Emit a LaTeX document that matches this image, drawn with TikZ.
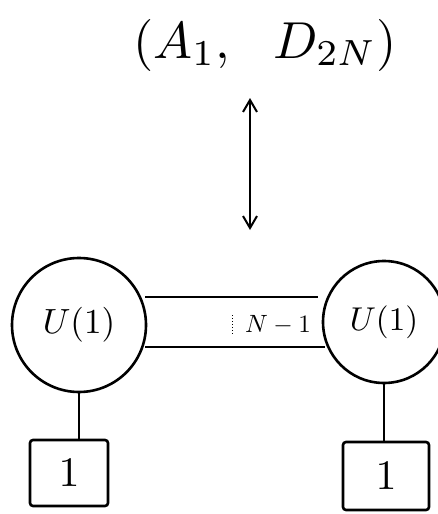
\documentclass[tikz,border=0pt]{standalone}
\usetikzlibrary{arrows.meta}
\begin{document}
\begin{tikzpicture}[x=1pt,y=-1pt,
  ink/.style={line width=2.6pt,black},
  gauge/.style={ink,draw,circle},
  flav/.style={ink,draw,rectangle,rounded corners=3pt}]
\useasboundingbox (0,0) rectangle (437,514);
\node (theory) at (265,45) {\scalebox{5.2}{$(A_1,\ \ D_{2N})$}};
\coordinate (ta) at (250,98);
\coordinate (tb) at (250,230);
\draw[ink,line width=2pt,{Straight Barb[length=12pt,width=14pt]}-{Straight Barb[length=12pt,width=14pt]}] (ta) -- (tb);
\node[gauge,minimum size=134pt] (g1) at (79,325) {};
\node at (g1) {\scalebox{3.5}{$U(1)$}};
\node[gauge,minimum size=122pt] (g2) at (384,322) {};
\node at (g2) {\scalebox{3.3}{$U(1)$}};
\draw[ink] (g1.east |- 0,297) ++(-2,0) coordinate (a1) -- (318,297) coordinate (a2);
\draw[ink] (g1.east |- 0,347) ++(-2,0) coordinate (b1) -- (325,347) coordinate (b2);
\draw[line width=1pt,dotted] (232,315) -- (232,335);
\node (lab) at (278,325) {\scalebox{2.5}{$N-1$}};
\node[flav,minimum width=78pt,minimum height=66pt] (f1) at (69,473) {};
\node at (f1) {\scalebox{4.2}{$1$}};
\node[flav,minimum width=86pt,minimum height=68pt] (f2) at (386,476) {};
\node at (f2) {\scalebox{4.2}{$1$}};
\draw[ink] (g1.south) -- (f1.north -| g1.south);
\draw[ink] (g2.south) -- (f2.north -| g2.south);
\end{tikzpicture}
\end{document}
